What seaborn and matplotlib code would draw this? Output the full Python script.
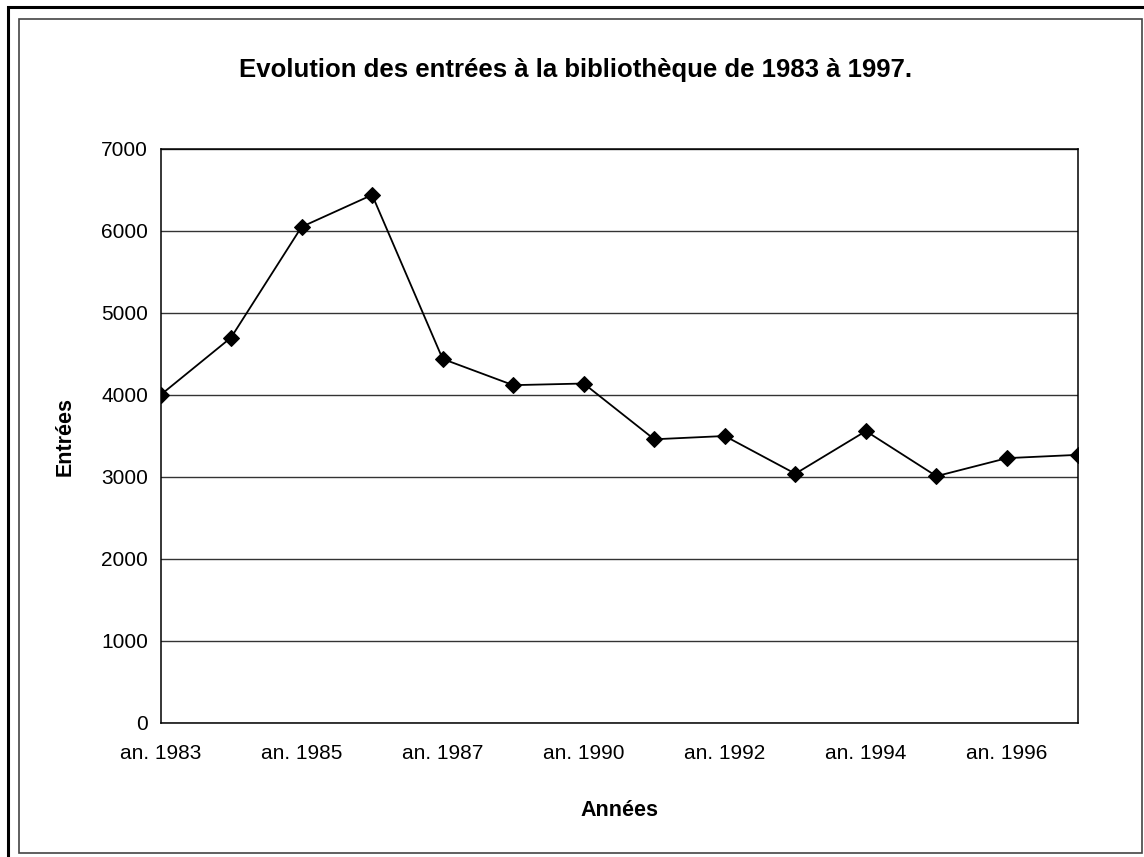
import matplotlib
matplotlib.use("Agg")
import matplotlib.pyplot as plt
import seaborn as sns
import pandas as pd
from matplotlib.patches import Rectangle

# data
years = [1983, 1984, 1985, 1986, 1987, 1988, 1990, 1991, 1992, 1993, 1994, 1995, 1996, 1997]
entrees = [4000, 4700, 6050, 6440, 4440, 4120, 4140, 3460, 3500, 3040, 3560, 3010, 3230, 3270]
y_ticks = [0, 1000, 2000, 3000, 4000, 5000, 6000, 7000]

labels = [f"an. {y}" for y in years]
df = pd.DataFrame({"pos": range(len(years)), "entrees": entrees})

sns.set_style("white")
plt.rcParams["font.family"] = ["Liberation Sans", "DejaVu Sans"]
plt.rcParams["text.color"] = "black"
plt.rcParams["axes.labelcolor"] = "black"
plt.rcParams["xtick.color"] = "black"
plt.rcParams["ytick.color"] = "black"

fig = plt.figure(figsize=(11.44, 8.57), dpi=100)
ax = fig.add_axes([160.5 / 1144, 1 - 723 / 857, (1077.5 - 160.5) / 1144, (723 - 149) / 857])

sns.lineplot(data=df, x="pos", y="entrees", ax=ax, color="black", linewidth=1.3,
             marker="D", markersize=8, markeredgecolor="black", markerfacecolor="black")

ax.set_xlim(0, len(years) - 1)
ax.set_ylim(0, 7000)
ax.set_yticks(y_ticks)
ax.set_yticklabels([str(v) for v in y_ticks], fontsize=15)
ax.set_xticks(range(len(years)))
ax.set_xticklabels([lab if i % 2 == 0 else "" for i, lab in enumerate(labels)], fontsize=15)
ax.tick_params(axis="both", direction="out", length=5, width=1, color="black", pad=4)
ax.tick_params(axis="x", pad=10)

ax.grid(axis="y", color="#333333", linewidth=1)
ax.set_axisbelow(True)
for side in ["left", "bottom", "top", "right"]:
    ax.spines[side].set_visible(True)
    ax.spines[side].set_color("black")
    ax.spines[side].set_linewidth(1.1)

ax.set_xlabel("Années", fontsize=15.5, fontweight="bold")
ax.set_ylabel("Entrées", fontsize=15.5, fontweight="bold")
ax.xaxis.set_label_coords(0.5, -0.134)
ax.yaxis.set_label_coords(-0.093, 0.5)

fig.text(0.503, 1 - 70 / 857, "Evolution des entrées à la bibliothèque de 1983 à 1997.",
         ha="center", va="center", fontsize=18.5, fontweight="bold", color="black")

# the two frames around the chart
fig.patches.append(Rectangle((8 / 1144, -0.05), 1.1, 1 - 7 / 857 + 0.05, transform=fig.transFigure,
                             fill=False, edgecolor="black", linewidth=2.2))
fig.patches.append(Rectangle((19 / 1144, 1 - 853 / 857), (1142 - 19) / 1144, (853 - 19) / 857,
                             transform=fig.transFigure, fill=False, edgecolor="#444444", linewidth=1.2))

fig.savefig("out.png", dpi=100)
